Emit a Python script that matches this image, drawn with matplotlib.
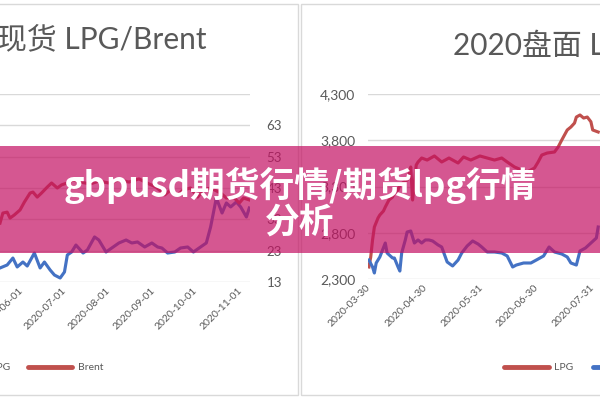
import matplotlib
matplotlib.use("Agg")
import matplotlib.pyplot as plt
import matplotlib.dates as mdates
from matplotlib.lines import Line2D
from matplotlib.patches import Rectangle
from matplotlib.ticker import FuncFormatter
import pandas as pd

plt.rcParams['font.family'] = ['Lato', 'Noto Sans CJK SC', 'DejaVu Sans']

# ---- left chart: spot LPG / Brent ----
lpg_spot_dates = ["2020-05-17", "2020-05-22", "2020-05-26", "2020-05-29", "2020-06-02", "2020-06-05",
                  "2020-06-10", "2020-06-14", "2020-06-17", "2020-06-21", "2020-06-24", "2020-06-28",
                  "2020-07-01", "2020-07-03", "2020-07-06", "2020-07-09", "2020-07-14", "2020-07-17",
                  "2020-07-22", "2020-07-25", "2020-07-30", "2020-08-03", "2020-08-08", "2020-08-13",
                  "2020-08-17", "2020-08-21", "2020-08-26", "2020-08-31", "2020-09-04", "2020-09-07",
                  "2020-09-11", "2020-09-16", "2020-09-20", "2020-09-25", "2020-09-29", "2020-10-04",
                  "2020-10-08", "2020-10-11", "2020-10-15", "2020-10-19", "2020-10-22", "2020-10-25",
                  "2020-10-29", "2020-11-01", "2020-11-05", "2020-11-07"]
lpg_spot = [2179, 2217, 2306, 2192, 2255, 2204, 2370, 2179, 2255, 2153, 2089, 2051,
            2128, 2345, 2383, 2472, 2370, 2409, 2575, 2536, 2383, 2434, 2498, 2536,
            2498, 2511, 2447, 2498, 2447, 2434, 2370, 2383, 2434, 2447, 2383, 2447,
            2498, 2702, 3073, 2881, 3009, 2958, 3022, 2958, 2830, 2945]

brent_dates = ["2020-05-17", "2020-05-19", "2020-05-22", "2020-05-24", "2020-05-27", "2020-05-31",
               "2020-06-03", "2020-06-07", "2020-06-09", "2020-06-12", "2020-06-15", "2020-06-19",
               "2020-06-22", "2020-06-26", "2020-06-29", "2020-07-03", "2020-07-07", "2020-07-12",
               "2020-07-19", "2020-07-25", "2020-08-01", "2020-08-08", "2020-08-15", "2020-08-22",
               "2020-08-29", "2020-09-03", "2020-09-09", "2020-09-13", "2020-09-18", "2020-09-22",
               "2020-09-27", "2020-10-02", "2020-10-06", "2020-10-11", "2020-10-18", "2020-10-22",
               "2020-10-27", "2020-10-31", "2020-11-03", "2020-11-07"]
brent = [31.8, 35.0, 35.3, 33.4, 34.4, 36.0, 38.5, 41.4, 41.7, 40.1,
         41.4, 43.3, 44.6, 43.0, 44.0, 44.6, 45.6, 44.9, 44.3, 45.2,
         44.6, 45.6, 44.9, 45.9, 44.3, 43.3, 40.8, 42.4, 40.8, 42.4,
         43.0, 40.1, 42.4, 43.0, 41.4, 39.8, 40.1, 38.2, 39.8, 39.2]

left_ticks = ["2020-06-01", "2020-07-01", "2020-08-01", "2020-09-01", "2020-10-01", "2020-11-01"]
brent_ticks = [13, 23, 33, 43, 53, 63]

# ---- right chart: 2020 futures ----
pg_dates = ["2020-03-30", "2020-03-31", "2020-04-01", "2020-04-02", "2020-04-04", "2020-04-05",
            "2020-04-07", "2020-04-08", "2020-04-10", "2020-04-12", "2020-04-13", "2020-04-15",
            "2020-04-16", "2020-04-19", "2020-04-20", "2020-04-21", "2020-04-22", "2020-04-23",
            "2020-04-25", "2020-04-26", "2020-04-28", "2020-05-01", "2020-05-05", "2020-05-09",
            "2020-05-13", "2020-05-18", "2020-05-21", "2020-05-25", "2020-05-30", "2020-06-03",
            "2020-06-07", "2020-06-11", "2020-06-14", "2020-06-18", "2020-06-22", "2020-06-25",
            "2020-06-29", "2020-07-01", "2020-07-03", "2020-07-06", "2020-07-10", "2020-07-12",
            "2020-07-14", "2020-07-17", "2020-07-19", "2020-07-21", "2020-07-22", "2020-07-24",
            "2020-07-26", "2020-07-28", "2020-07-30", "2020-07-31", "2020-08-03"]
pg_lpg = [2430, 2538, 2722, 2862, 2959, 2992, 3035, 3078, 3154, 3186, 3230, 3262,
          3316, 3359, 3370, 3424, 3511, 3154, 3532, 3565, 3608, 3586, 3630, 3565,
          3608, 3554, 3619, 3586, 3630, 3608, 3586, 3608, 3565, 3511, 3478, 3457,
          3500, 3565, 3640, 3662, 3673, 3727, 3803, 3911, 3943, 3986, 4051, 4073,
          4040, 4051, 4000, 3911, 3889]

pg2_dates = ["2020-03-30", "2020-04-01", "2020-04-02", "2020-04-03", "2020-04-05", "2020-04-08",
             "2020-04-09", "2020-04-12", "2020-04-13", "2020-04-15", "2020-04-16", "2020-04-17",
             "2020-04-19", "2020-04-20", "2020-04-22", "2020-04-24", "2020-04-26", "2020-04-28",
             "2020-04-30", "2020-05-02", "2020-05-04", "2020-05-07", "2020-05-09", "2020-05-12",
             "2020-05-15", "2020-05-18", "2020-05-20", "2020-05-23", "2020-05-26", "2020-05-29",
             "2020-05-31", "2020-06-03", "2020-06-07", "2020-06-11", "2020-06-14", "2020-06-17",
             "2020-06-19", "2020-06-23", "2020-06-27", "2020-06-30", "2020-07-04", "2020-07-07",
             "2020-07-10", "2020-07-14", "2020-07-17", "2020-07-19", "2020-07-22", "2020-07-24",
             "2020-07-27", "2020-07-30", "2020-08-02", "2020-08-03"]
pg2 = [2505, 2430, 2365, 2473, 2538, 2689, 2581, 2527, 2527, 2430, 2386, 2581,
       2722, 2808, 2819, 2689, 2722, 2689, 2722, 2722, 2711, 2668, 2646, 2484,
       2441, 2505, 2581, 2657, 2711, 2678, 2646, 2592, 2592, 2581, 2549, 2430,
       2451, 2473, 2473, 2505, 2549, 2646, 2592, 2570, 2538, 2473, 2451, 2603,
       2635, 2689, 2743, 2862]

right_ticks = ["2020-03-30", "2020-04-30", "2020-05-31", "2020-06-30", "2020-07-31"]
pg_yticks = [2300, 2800, 3300, 3800, 4300]

BLUE = "#4472C4"
RED = "#C0504D"
GRID = "#D9D9D9"
TXT = "#595959"
W, H = 600, 400


def fx(x):
    return x / W


def fy(y):
    return 1 - y / H


def style_axes(ax):
    for s in ax.spines.values():
        s.set_visible(False)
    ax.set_facecolor("none")
    ax.tick_params(length=0, colors=TXT)


def rotate_dates(ax):
    for lab in ax.get_xticklabels():
        lab.set_rotation(45)
        lab.set_ha("right")
        lab.set_va("center")
        lab.set_rotation_mode("anchor")


fig = plt.figure(figsize=(6, 4), dpi=100)

# panel frames
fig.add_artist(Rectangle((fx(-5), fy(395)), fx(303), 391 / H, transform=fig.transFigure,
                         fill=False, edgecolor=GRID, lw=1))
fig.add_artist(Rectangle((fx(301), fy(395)), fx(310), 391 / H, transform=fig.transFigure,
                         fill=False, edgecolor=GRID, lw=1))

# left chart
axL = fig.add_axes([0, fy(282), fx(250), 188 / H])
style_axes(axL)
axL.plot(pd.to_datetime(lpg_spot_dates), lpg_spot, color=BLUE, lw=2.25, solid_joinstyle="round")
axL.set_ylim(2000, 4400)
axL.set_yticks(range(2000, 4401, 400))
axL.set_yticklabels([])
axL.yaxis.grid(True, color=GRID, lw=1)
axL.set_axisbelow(True)
axL.set_xlim(pd.Timestamp("2020-05-17"), pd.Timestamp("2020-11-07 12:00"))
axL.set_xticks(pd.to_datetime(left_ticks))
axL.xaxis.set_major_formatter(mdates.DateFormatter("%Y-%m-%d"))
axL.tick_params(axis="x", pad=5, labelsize=7.5)
rotate_dates(axL)

axR = axL.twinx()
style_axes(axR)
axR.plot(pd.to_datetime(brent_dates), brent, color=RED, lw=2.25, solid_joinstyle="round")
axR.set_ylim(13, 73)
axR.set_yticks(brent_ticks)
axR.tick_params(axis="y", pad=12, labelsize=9.5)

fig.text(fx(207), fy(48), "2020现货 LPG/Brent", ha="right", va="baseline",
         fontsize=21.5, color=TXT)

# right chart
ax2 = fig.add_axes([fx(368), fy(279), fx(232), 185 / H])
style_axes(ax2)
ax2.plot(pd.to_datetime(pg_dates), pg_lpg, color=RED, lw=2.25, solid_joinstyle="round")
ax2.plot(pd.to_datetime(pg2_dates), pg2, color=BLUE, lw=2.25, solid_joinstyle="round")
ax2.set_ylim(2300, 4300)
ax2.set_yticks(pg_yticks)
ax2.yaxis.set_major_formatter(FuncFormatter(lambda v, p: f"{int(v):,}"))
ax2.yaxis.grid(True, color=GRID, lw=1)
ax2.set_axisbelow(True)
ax2.tick_params(axis="y", pad=9, labelsize=10)
ax2.set_xlim(pd.Timestamp("2020-03-29 12:00"), pd.Timestamp("2020-08-04"))
ax2.set_xticks(pd.to_datetime(right_ticks))
ax2.xaxis.set_major_formatter(mdates.DateFormatter("%Y-%m-%d"))
ax2.tick_params(axis="x", pad=5, labelsize=7.5)
rotate_dates(ax2)

fig.text(fx(453), fy(55), "2020盘面 LPG/Brent", ha="left", va="baseline",
         fontsize=21.5, color=TXT)

# legends (drawn by hand, Excel style)
fig.text(fx(10), fy(367), "LPG", ha="right", va="center", fontsize=7.5, color=TXT)
fig.add_artist(Line2D([fx(28), fx(72)], [fy(367), fy(367)], color=RED, lw=3.5,
                      solid_capstyle="round", transform=fig.transFigure))
fig.text(fx(78), fy(367), "Brent", ha="left", va="center", fontsize=7.5, color=TXT)

fig.add_artist(Line2D([fx(504), fx(549)], [fy(367), fy(367)], color=RED, lw=3.5,
                      solid_capstyle="round", transform=fig.transFigure))
fig.text(fx(554), fy(367), "LPG", ha="left", va="center", fontsize=7.5, color=TXT)
fig.add_artist(Line2D([fx(593), fx(640)], [fy(367), fy(367)], color=BLUE, lw=3.5,
                      solid_capstyle="round", transform=fig.transFigure))

# pink banner with headline
fig.add_artist(Rectangle((0, fy(253)), 1, 107 / H, transform=fig.transFigure,
                         facecolor="#C41062", alpha=0.7, edgecolor="none", zorder=5))
fig.text(0.5, fy(185), "gbpusd期货行情/期货lpg行情", ha="center", va="center",
         fontsize=25, fontweight="bold", color="white", zorder=6,
         family=["Noto Sans CJK SC", "DejaVu Sans"])
fig.text(0.5, fy(223), "分析", ha="center", va="center",
         fontsize=25, fontweight="bold", color="white", zorder=6,
         family=["Noto Sans CJK SC", "DejaVu Sans"])

fig.savefig("out.png", dpi=100)
